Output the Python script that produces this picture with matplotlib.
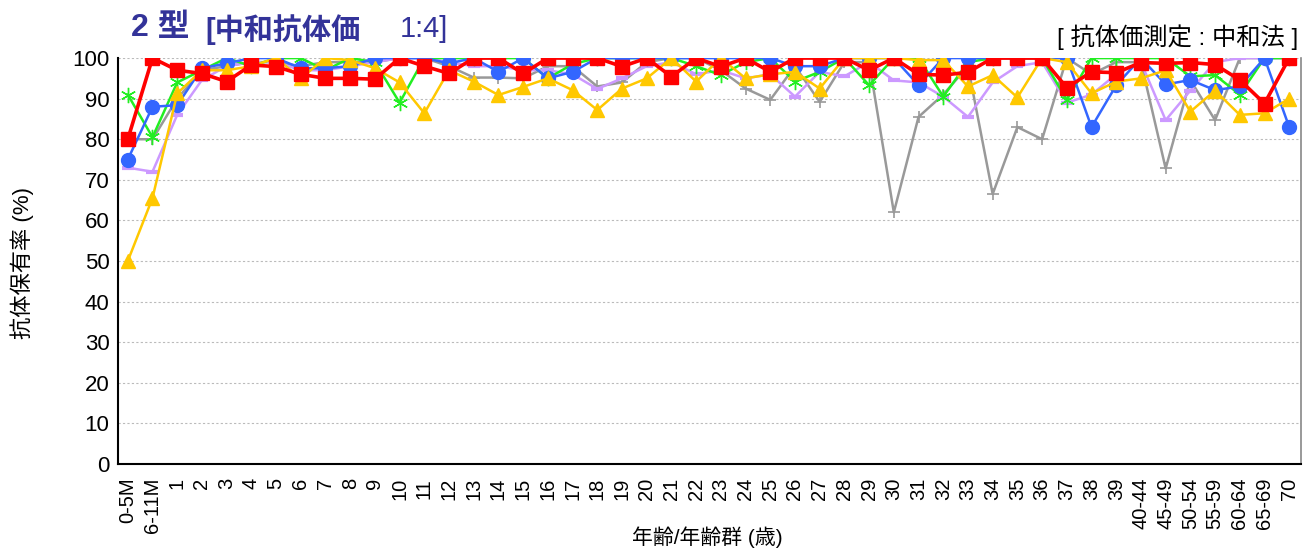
import matplotlib
matplotlib.use("Agg")
import matplotlib.pyplot as plt
import numpy as np

plt.rcParams['font.family'] = ['Liberation Sans', 'Noto Sans CJK JP', 'DejaVu Sans']

# age groups
ages = ['0-5M', '6-11M'] + [str(i) for i in range(1, 40)] + \
       ['40-44', '45-49', '50-54', '55-59', '60-64', '65-69', '70']

# antibody positive rate (%) per series
gray_vals = [80, 80, 90, 97, 98, 99, 99, 98, 99, 99, 99, 100, 100, 98, 95.2, 95.2,
             95, 98, 98, 93, 94, 99, 100, 100, 97, 92.5, 89.7, 98, 89.2, 99, 99, 62,
             85.5, 91, 98, 66.5, 83, 80, 100, 96, 99, 99, 72.8, 94.6, 84.7, 100, 100, 100]
lavender_vals = [73, 72, 86, 94.6, 98, 99, 99, 97, 97, 98, 99, 100, 100, 99, 98, 98,
                 97, 97, 96, 92.4, 95, 98, 99, 96, 97, 95, 96, 90.5, 96.6, 95.5, 99, 94.5,
                 94, 90.5, 85.5, 94, 98, 99, 89, 91, 96, 99, 84.7, 92, 99, 100, 100, 100]
green_vals = [91, 80.5, 94, 97, 100, 98, 100, 100, 97, 100, 99, 89, 100, 100, 100, 100,
              100, 95, 98.5, 100, 100, 100, 100, 98, 95.8, 99, 100, 94.2, 96.6, 100, 93.3, 100,
              100, 90.5, 99, 100, 100, 100, 89.7, 100, 100, 100, 100, 95.5, 95.8, 91, 100, 100]
blue_vals = [75, 88, 88.4, 97.5, 98.7, 100, 100, 97.5, 97.5, 98, 100, 100, 100, 98.7, 100, 96.6,
             100, 95, 96.6, 100, 100, 100, 100, 100, 100, 100, 100, 98, 98, 100, 100, 100,
             93.3, 100, 100, 100, 100, 100, 100, 83, 93.3, 100, 93.5, 94.6, 92.1, 93, 100, 83]
yellow_vals = [50, 65.5, 91.3, 97, 97, 98, 100, 95, 100, 99.5, 97.5, 94, 86.4, 97, 94.2, 90.9,
               92.9, 95, 92.1, 87.2, 92.5, 95, 100, 94.2, 100, 95, 96, 96.6, 92.5, 100, 100, 100,
               99.5, 99.5, 93, 95.8, 90.3, 100, 99, 91.3, 94.2, 95, 97, 86.8, 92, 86, 86.4, 90]
red_vals = [80, 100, 97, 96.2, 94.2, 98.3, 97.9, 96, 95, 95, 94.8, 100, 98, 96.2, 100, 100,
            96.2, 100, 100, 100, 97.9, 100, 95.4, 100, 97.9, 100, 96.6, 100, 100, 100, 97, 100,
            96, 95.8, 96.5, 100, 100, 100, 92.7, 96.6, 96.4, 98.9, 98.7, 98.9, 98.4, 94.6, 88.8, 100]

x = np.arange(len(ages))

fig = plt.figure(figsize=(13.1, 5.53), dpi=100)
ax = fig.add_axes([0.090, 0.161, 0.903, 0.734])

ax.plot(x, gray_vals, color='#999999', lw=1.8, marker='+', ms=9, mew=1.2, zorder=2)
ax.plot(x, lavender_vals, color='#CC99FF', lw=1.8, marker='_', ms=9, mew=3, zorder=3)
ax.plot(x, green_vals, color='#22EE22', lw=1.8, marker=(6, 2, 0), ms=11, mew=1.0, zorder=4)
ax.plot(x, blue_vals, color='#3366FF', lw=1.8, marker='o', ms=10, zorder=5)
ax.plot(x, yellow_vals, color='#FFC800', lw=1.8, marker='^', ms=10, zorder=6)
ax.plot(x, red_vals, color='#FF0000', lw=2.6, marker='s', ms=10, zorder=7)

ax.set_xlim(-0.4, 47.47)
ax.set_ylim(0, 100)
ax.set_yticks(np.arange(0, 101, 10))
ax.set_xticks(x)
ax.set_xticklabels(ages, rotation=90, fontsize=14.5)
ax.tick_params(axis='y', labelsize=16, length=0, pad=6)
ax.tick_params(axis='x', length=0, pad=10)
ax.grid(axis='y', color='#BBBBBB', ls=(0, (2, 2)), lw=0.8)
ax.set_axisbelow(True)

ax.spines['top'].set_visible(False)
ax.spines['left'].set_color('black')
ax.spines['left'].set_linewidth(1.5)
ax.spines['bottom'].set_color('black')
ax.spines['bottom'].set_linewidth(1.5)
ax.spines['right'].set_color('#888888')
ax.spines['right'].set_linewidth(1.2)

fig.text(0.017, 0.525, '抗体保有率 (%)', fontsize=16, rotation=90, ha='center', va='center')
fig.text(0.54, 0.028, '年齢/年齢群 (歳)', fontsize=15, ha='center', va='center')

fig.text(0.100, 0.950, '2 型', fontsize=23, fontweight='bold', color='#333399',
         ha='left', va='center')
fig.text(0.157, 0.947, '[中和抗体価', fontsize=21, fontweight='bold', color='#333399',
         ha='left', va='center')
fig.text(0.305, 0.947, '1:4]', fontsize=21, color='#333399', ha='left', va='center')
fig.text(0.991, 0.933, '[ 抗体価測定 : 中和法 ]', fontsize=17.5, color='black',
         ha='right', va='center')

plt.savefig('out.png', dpi=100)
